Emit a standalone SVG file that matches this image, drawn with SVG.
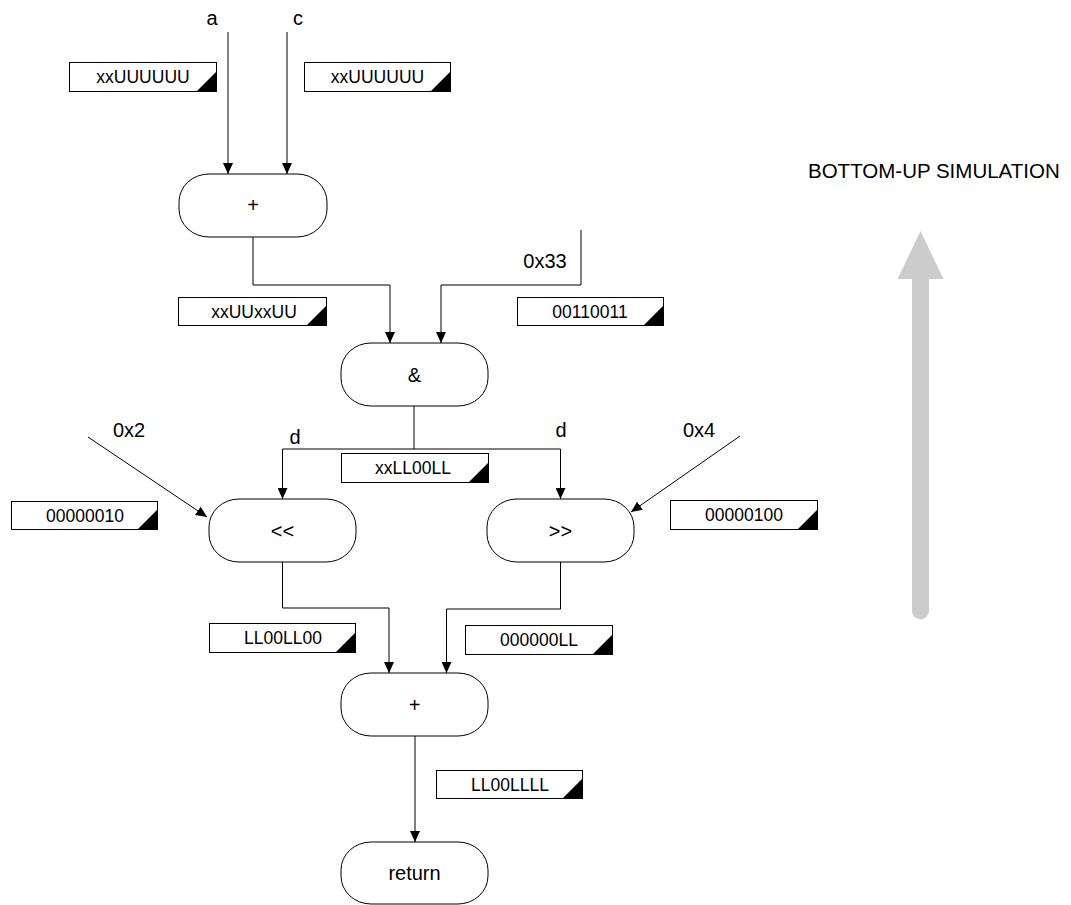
<svg xmlns="http://www.w3.org/2000/svg" width="1071" height="905" viewBox="0 0 1071 905">
  <style>
    .op { fill: #ffffff; stroke: #000000; stroke-width: 1; }
    .op-text { font-family: "Liberation Sans", Arial, sans-serif; font-size: 20px; fill: #000000; text-anchor: middle; }
    .lbl { font-family: "Liberation Sans", Arial, sans-serif; font-size: 20px; fill: #000000; text-anchor: middle; }
    .val-box { fill: #ffffff; stroke: #000000; stroke-width: 1; }
    .val-corner { fill: #000000; stroke: none; }
    .val-text { font-family: "Liberation Sans", Arial, sans-serif; font-size: 17.5px; fill: #000000; text-anchor: middle; }
    .wire { fill: none; stroke: #000000; stroke-width: 1; }
    .title { font-family: "Liberation Sans", Arial, sans-serif; font-size: 20.5px; fill: #000000; }
  </style>
  <defs>
    <marker id="arrow" viewBox="0 0 11 10" refX="11" refY="5" markerWidth="11" markerHeight="10" markerUnits="userSpaceOnUse" orient="auto">
      <path d="M0,0 L11,5 L0,10 z" fill="#000000"/>
    </marker>
  </defs>

  <!-- data-flow wires -->
  <g id="connectors">
    <path class="wire" d="M228,32 V174" marker-end="url(#arrow)"/>
    <path class="wire" d="M287,32 V174" marker-end="url(#arrow)"/>
    <path class="wire" d="M253,237 V285 H390 V343" marker-end="url(#arrow)"/>
    <path class="wire" d="M581,230 V285 H441 V343" marker-end="url(#arrow)"/>
    <path class="wire" d="M414,406 V449"/>
    <path class="wire" d="M414,449 H282.5 V499" marker-end="url(#arrow)"/>
    <path class="wire" d="M414,449 H560.5 V499" marker-end="url(#arrow)"/>
    <path class="wire" d="M88,437 L207,517" marker-end="url(#arrow)"/>
    <path class="wire" d="M740,436 L631,512" marker-end="url(#arrow)"/>
    <path class="wire" d="M282.5,562 V608 H389 V673" marker-end="url(#arrow)"/>
    <path class="wire" d="M560.5,562 V609 H446.5 V673" marker-end="url(#arrow)"/>
    <path class="wire" d="M415,736 V842" marker-end="url(#arrow)"/>
  </g>

  <!-- input labels -->
  <g id="input-labels">
    <text class="lbl" x="212" y="25">a</text>
    <text class="lbl" x="298" y="25">c</text>
    <text class="lbl" x="545" y="268">0x33</text>
    <text class="lbl" x="129" y="437">0x2</text>
    <text class="lbl" x="699" y="437">0x4</text>
    <text class="lbl" x="295" y="444">d</text>
    <text class="lbl" x="561" y="437">d</text>
  </g>

  <!-- operation nodes -->
  <g id="node-add1">
    <rect class="op" x="179" y="174" width="148" height="63" rx="30" ry="28"/>
    <text class="op-text" x="253" y="212">+</text>
  </g>
  <g id="node-and">
    <rect class="op" x="341" y="343" width="147" height="63" rx="30" ry="28"/>
    <text class="op-text" x="414.5" y="382">&amp;</text>
  </g>
  <g id="node-shl">
    <rect class="op" x="209" y="499" width="147" height="63" rx="30" ry="28"/>
    <text class="op-text" x="282.5" y="538">&lt;&lt;</text>
  </g>
  <g id="node-shr">
    <rect class="op" x="487" y="499" width="147" height="63" rx="30" ry="28"/>
    <text class="op-text" x="560.5" y="538">&gt;&gt;</text>
  </g>
  <g id="node-add2">
    <rect class="op" x="341" y="673" width="147" height="63" rx="30" ry="28"/>
    <text class="op-text" x="414.5" y="712">+</text>
  </g>
  <g id="node-return">
    <rect class="op" x="341" y="842" width="147" height="62" rx="30" ry="28"/>
    <text class="op-text" x="414.5" y="880">return</text>
  </g>

  <!-- bit-value annotations -->
  <g id="val-a">
    <rect class="val-box" x="69.5" y="62.5" width="147" height="29"/>
    <path class="val-corner" d="M217,71 V92 H196 z"/>
    <text class="val-text" x="143" y="83">xxUUUUUU</text>
  </g>
  <g id="val-c">
    <rect class="val-box" x="304.5" y="62.5" width="146" height="29"/>
    <path class="val-corner" d="M451,71 V92 H430 z"/>
    <text class="val-text" x="377.5" y="83">xxUUUUUU</text>
  </g>
  <g id="val-add1">
    <rect class="val-box" x="178.5" y="297.5" width="148" height="28"/>
    <path class="val-corner" d="M327,305 V326 H306 z"/>
    <text class="val-text" x="254" y="318">xxUUxxUU</text>
  </g>
  <g id="val-0x33">
    <rect class="val-box" x="517.5" y="297.5" width="146" height="28"/>
    <path class="val-corner" d="M664,305 V326 H643 z"/>
    <text class="val-text" x="590" y="318">00110011</text>
  </g>
  <g id="val-and">
    <rect class="val-box" x="341.5" y="453.5" width="147" height="29"/>
    <path class="val-corner" d="M489,462 V483 H468 z"/>
    <text class="val-text" x="413" y="474">xxLL00LL</text>
  </g>
  <g id="val-0x2">
    <rect class="val-box" x="11.5" y="501.5" width="146" height="28"/>
    <path class="val-corner" d="M158,509 V530 H137 z"/>
    <text class="val-text" x="85" y="522">00000010</text>
  </g>
  <g id="val-0x4">
    <rect class="val-box" x="670.5" y="500.5" width="147" height="29"/>
    <path class="val-corner" d="M818,509 V530 H797 z"/>
    <text class="val-text" x="744" y="521">00000100</text>
  </g>
  <g id="val-shl">
    <rect class="val-box" x="209.5" y="623.5" width="146" height="29"/>
    <path class="val-corner" d="M356,632 V653 H335 z"/>
    <text class="val-text" x="283" y="644">LL00LL00</text>
  </g>
  <g id="val-shr">
    <rect class="val-box" x="465.5" y="625.5" width="147" height="29"/>
    <path class="val-corner" d="M613,634 V655 H592 z"/>
    <text class="val-text" x="539" y="646">000000LL</text>
  </g>
  <g id="val-add2">
    <rect class="val-box" x="436.5" y="770.5" width="146" height="28"/>
    <path class="val-corner" d="M583,778 V799 H562 z"/>
    <text class="val-text" x="510" y="791">LL00LLLL</text>
  </g>

  <!-- direction indicator -->
  <g id="direction">
    <text class="title" x="808" y="178">BOTTOM-UP SIMULATION</text>
    <line x1="920.5" y1="270" x2="920.5" y2="611" stroke="#cccccc" stroke-width="17" stroke-linecap="round"/>
    <polygon points="920.5,231 897.5,279 943.5,279" fill="#cccccc"/>
  </g>
</svg>
